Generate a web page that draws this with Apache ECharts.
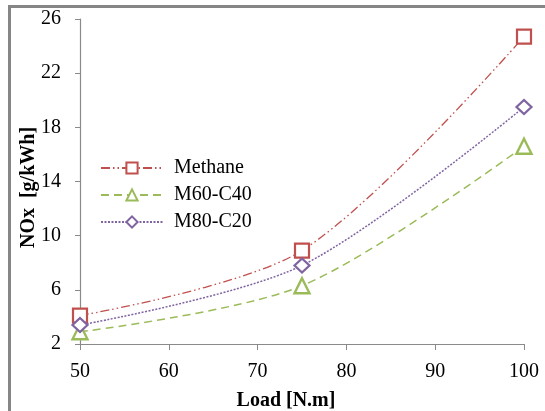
<!DOCTYPE html>
<html>
<head>
<meta charset="utf-8">
<script src="https://cdn.jsdelivr.net/npm/echarts@6/dist/echarts.min.js"></script>
<style>
  html, body { margin: 0; padding: 0; background: #fff; }
  #frame { position: absolute; left: 8px; top: 5px; width: 545px; height: 411px;
           border-left: 3px solid #868686; border-top: 3px solid #868686; }
  #main { position: absolute; left: 0; top: 0; width: 545px; height: 411px; }
</style>
</head>
<body>
<div id="frame"></div>
<div id="main"></div>
<script>
// loads (N.m)
const loads = [50, 75, 100];
// NOx (g/kWh)
const methane = [4.1, 8.9, 24.7];
const m60c40 = [2.9, 6.3, 16.6];
const m80c20 = [3.4, 7.8, 19.5];

const serif = 'Liberation Serif';
const pairs = (ys) => loads.map((x, i) => [x, ys[i]]);

const option = {
  animation: false,
  grid: { left: 80, right: 21, top: 19, bottom: 67, outerBoundsMode: 'none' },
  legend: {
    left: 95,
    top: 152,
    orient: 'vertical',
    itemWidth: 62,
    itemHeight: 14,
    itemGap: 5,
    textStyle: { fontFamily: serif, fontSize: 20, lineHeight: 22, color: '#000', padding: [0, 0, 0, 6] },
    data: ['Methane', 'M60-C40', 'M80-C20'],
  },
  xAxis: {
    type: 'value',
    min: 50,
    max: 100,
    interval: 10,
    name: 'Load [N.m]',
    nameLocation: 'middle',
    nameGap: 47,
    nameMoveOverlap: false,
    nameTextStyle: { fontFamily: serif, fontSize: 20, fontWeight: 'bold', color: '#000', padding: [0, 32, 0, 0] },
    axisLine: { lineStyle: { color: '#8a8a8a', width: 1.2 } },
    axisTick: { length: 6, lineStyle: { color: '#8a8a8a' } },
    axisLabel: { fontFamily: serif, fontSize: 20, color: '#000', margin: 18 },
    splitLine: { show: false },
  },
  yAxis: {
    type: 'value',
    min: 2,
    max: 26,
    interval: 4,
    name: 'NOx  [g/kWh]',
    nameLocation: 'middle',
    nameGap: 41,
    nameMoveOverlap: false,
    nameTextStyle: { fontFamily: serif, fontSize: 20, fontWeight: 'bold', color: '#000', padding: [0, 12, 0, 0] },
    axisLine: { show: true, lineStyle: { color: '#8a8a8a', width: 1.2 } },
    axisTick: { show: true, length: 5, lineStyle: { color: '#8a8a8a' } },
    axisLabel: { fontFamily: serif, fontSize: 20, color: '#000', margin: 19 },
    splitLine: { show: false },
  },
  series: [
    {
      name: 'Methane', type: 'line', smooth: 0.3, clip: false, z: 3,
      data: pairs(methane),
      symbol: 'rect', symbolSize: 14,
      itemStyle: { color: '#fff', borderColor: '#C0504D', borderWidth: 2.2 },
      lineStyle: { color: '#C0504D', width: 1.3, type: [9, 3, 1.5, 3, 1.5, 3] },
    },
    {
      name: 'M60-C40', type: 'line', smooth: 0.3, clip: false, z: 2,
      data: pairs(m60c40),
      symbol: 'triangle', symbolSize: 15,
      itemStyle: { color: '#fff', borderColor: '#9BBB59', borderWidth: 2.4 },
      lineStyle: { color: '#9BBB59', width: 1.5, type: [8, 5] },
    },
    {
      name: 'M80-C20', type: 'line', smooth: 0.3, clip: false, z: 4,
      data: pairs(m80c20),
      symbol: 'diamond', symbolSize: [15, 14],
      itemStyle: { color: '#fff', borderColor: '#8064A2', borderWidth: 2.2 },
      lineStyle: { color: '#8064A2', width: 1.5, type: [2, 1.5] },
    },
  ],
};

const chart = echarts.init(document.getElementById('main'));
chart.setOption(option);
</script>
</body>
</html>
